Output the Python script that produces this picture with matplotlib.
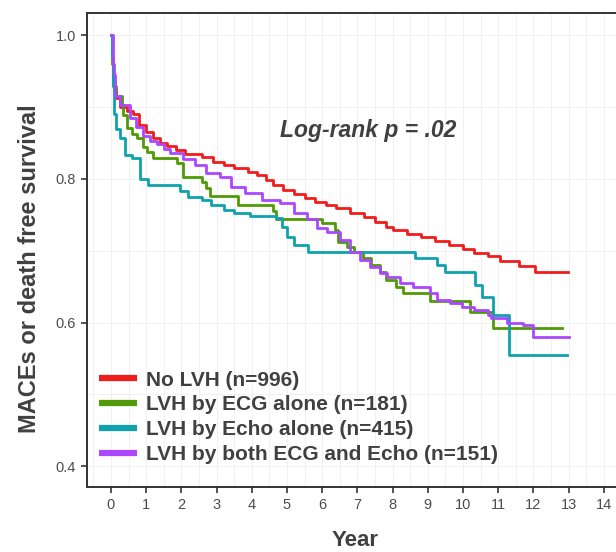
import matplotlib
matplotlib.use("Agg")
import matplotlib.pyplot as plt
from matplotlib.ticker import MultipleLocator

plt.rcParams['font.family'] = ['Liberation Sans', 'DejaVu Sans']

# Kaplan-Meier curves (year, survival)
no_lvh_t = [0, 0.03, 0.06, 0.1, 0.15, 0.26, 0.45, 0.63, 0.8, 1.0, 1.2, 1.4, 1.6, 1.85, 2.1,
            2.6, 2.9, 3.2, 3.5, 3.9, 4.15, 4.4, 4.6, 4.9, 5.2, 5.5, 5.8, 6.1, 6.4, 6.8,
            7.2, 7.5, 7.8, 8.0, 8.4, 8.8, 9.2, 9.6, 10.0, 10.3, 10.7, 11.05, 11.6, 12.05, 12.98]
no_lvh_s = [1.0, 0.97, 0.94, 0.925, 0.912, 0.90, 0.895, 0.89, 0.875, 0.865, 0.857, 0.85, 0.846,
            0.84, 0.835, 0.83, 0.824, 0.82, 0.815, 0.81, 0.806, 0.798, 0.792, 0.784, 0.779,
            0.773, 0.768, 0.764, 0.759, 0.752, 0.747, 0.74, 0.733, 0.729, 0.723, 0.719, 0.713,
            0.708, 0.703, 0.697, 0.692, 0.686, 0.679, 0.670, 0.670]

ecg_t = [0, 0.03, 0.06, 0.15, 0.3, 0.35, 0.45, 0.6, 0.73, 0.9, 1.02, 1.2, 1.87, 2.05, 2.6,
         2.7, 2.8, 3.6, 4.6, 4.7, 6.0, 6.35, 6.45, 6.7, 6.9, 7.17, 7.4, 7.65, 7.8, 8.1, 8.3,
         9.06, 10.2, 10.86, 12.8]
ecg_s = [1.0, 0.96, 0.93, 0.915, 0.903, 0.889, 0.871, 0.862, 0.857, 0.845, 0.837, 0.829, 0.822,
         0.802, 0.796, 0.787, 0.776, 0.763, 0.756, 0.744, 0.738, 0.729, 0.712, 0.705, 0.698,
         0.690, 0.680, 0.670, 0.659, 0.649, 0.641, 0.630, 0.614, 0.592, 0.592]

echo_t = [0, 0.02, 0.05, 0.08, 0.15, 0.26, 0.4, 0.6, 0.82, 1.06, 1.96, 2.2, 2.6, 2.85, 3.2,
          3.5, 3.95, 4.7, 4.86, 5.0, 5.2, 5.6, 8.64, 9.26, 9.5, 10.34, 10.54, 10.86, 11.3, 12.95]
echo_s = [1.0, 0.97, 0.93, 0.89, 0.87, 0.857, 0.833, 0.829, 0.80, 0.791, 0.783, 0.775, 0.77,
          0.763, 0.757, 0.753, 0.748, 0.745, 0.733, 0.719, 0.708, 0.698, 0.690, 0.680, 0.670,
          0.652, 0.635, 0.610, 0.555, 0.555]

both_t = [0, 0.05, 0.08, 0.12, 0.25, 0.54, 0.7, 0.91, 1.1, 1.3, 1.5, 1.68, 2.05, 2.4, 2.7,
          3.1, 3.4, 3.8, 4.3, 4.8, 5.2, 5.57, 5.85, 6.14, 6.5, 6.8, 7.07, 7.36, 7.64, 7.84,
          8.2, 8.58, 9.06, 9.26, 9.63, 9.97, 10.3, 10.7, 10.8, 11.25, 11.7, 12.0, 13.0]
both_s = [1.0, 0.96, 0.944, 0.916, 0.903, 0.885, 0.872, 0.86, 0.853, 0.848, 0.842, 0.836, 0.828,
          0.82, 0.808, 0.803, 0.789, 0.78, 0.77, 0.766, 0.752, 0.744, 0.731, 0.726, 0.715,
          0.698, 0.687, 0.677, 0.669, 0.663, 0.655, 0.649, 0.641, 0.631, 0.627, 0.621, 0.617,
          0.610, 0.606, 0.599, 0.596, 0.580, 0.580]

labels = ["No LVH (n=996)", "LVH by ECG alone (n=181)",
          "LVH by Echo alone (n=415)", "LVH by both ECG and Echo (n=151)"]
colors = ["#f21c1c", "#4f9a06", "#0ea2ad", "#aa47ff"]

fig = plt.figure(figsize=(6.16, 5.52), dpi=100)
ax = fig.add_axes([87 / 616, 1 - 487 / 552, 538 / 616, 474 / 552])

curves = [(no_lvh_t, no_lvh_s), (ecg_t, ecg_s), (echo_t, echo_s), (both_t, both_s)]
handles = []
for (t, s), c, lab in zip(curves, colors, labels):
    ax.step(t, s, where="post", color=c, lw=2.0, zorder=3)
    h, = ax.plot([], [], color=c, lw=4.5, solid_capstyle="butt", label=lab)
    handles.append(h)

ax.set_xlim(-0.68, 14.6)
ax.set_ylim(0.371, 1.031)
ax.xaxis.set_major_locator(MultipleLocator(1))
ax.xaxis.set_minor_locator(MultipleLocator(0.5))
ax.yaxis.set_major_locator(MultipleLocator(0.2))
ax.yaxis.set_minor_locator(MultipleLocator(0.1))
ax.yaxis.set_major_formatter(matplotlib.ticker.FormatStrFormatter("%.1f"))
ax.grid(which="both", color="#f1f1f1", lw=0.7, zorder=0)
ax.tick_params(which="major", direction="out", length=4, width=1.2, color="#333333",
               labelsize=10.5, labelcolor="#4d4d4d", pad=4)
ax.tick_params(which="minor", length=0)

for side in ["left", "bottom", "top"]:
    ax.spines[side].set_color("#333333")
    ax.spines[side].set_linewidth(1.4)
ax.spines["right"].set_visible(False)

ax.set_ylabel("MACEs or death free survival", fontsize=17, fontweight="bold",
              color="#404040", va="center")
ax.yaxis.set_label_coords(-0.106, 0.46)
ax.set_xlabel("Year", fontsize=16, fontweight="bold", color="#404040", va="center")
ax.xaxis.set_label_coords(0.498, -0.112)

ax.text(7.3, 0.868, "Log-rank p = .02", fontsize=16.5, fontweight="bold", style="italic",
        color="#404040", ha="center", va="center")

leg = ax.legend(handles=handles, loc="lower left", bbox_to_anchor=(99 / 616, 88 / 552),
                bbox_transform=fig.transFigure, frameon=False, fontsize=15,
                handlelength=1.8, handletextpad=0.45, labelspacing=0.28,
                borderpad=0, borderaxespad=0)
for txt in leg.get_texts():
    txt.set_fontweight("bold")
    txt.set_color("#404040")

fig.savefig("out.png", dpi=100)
